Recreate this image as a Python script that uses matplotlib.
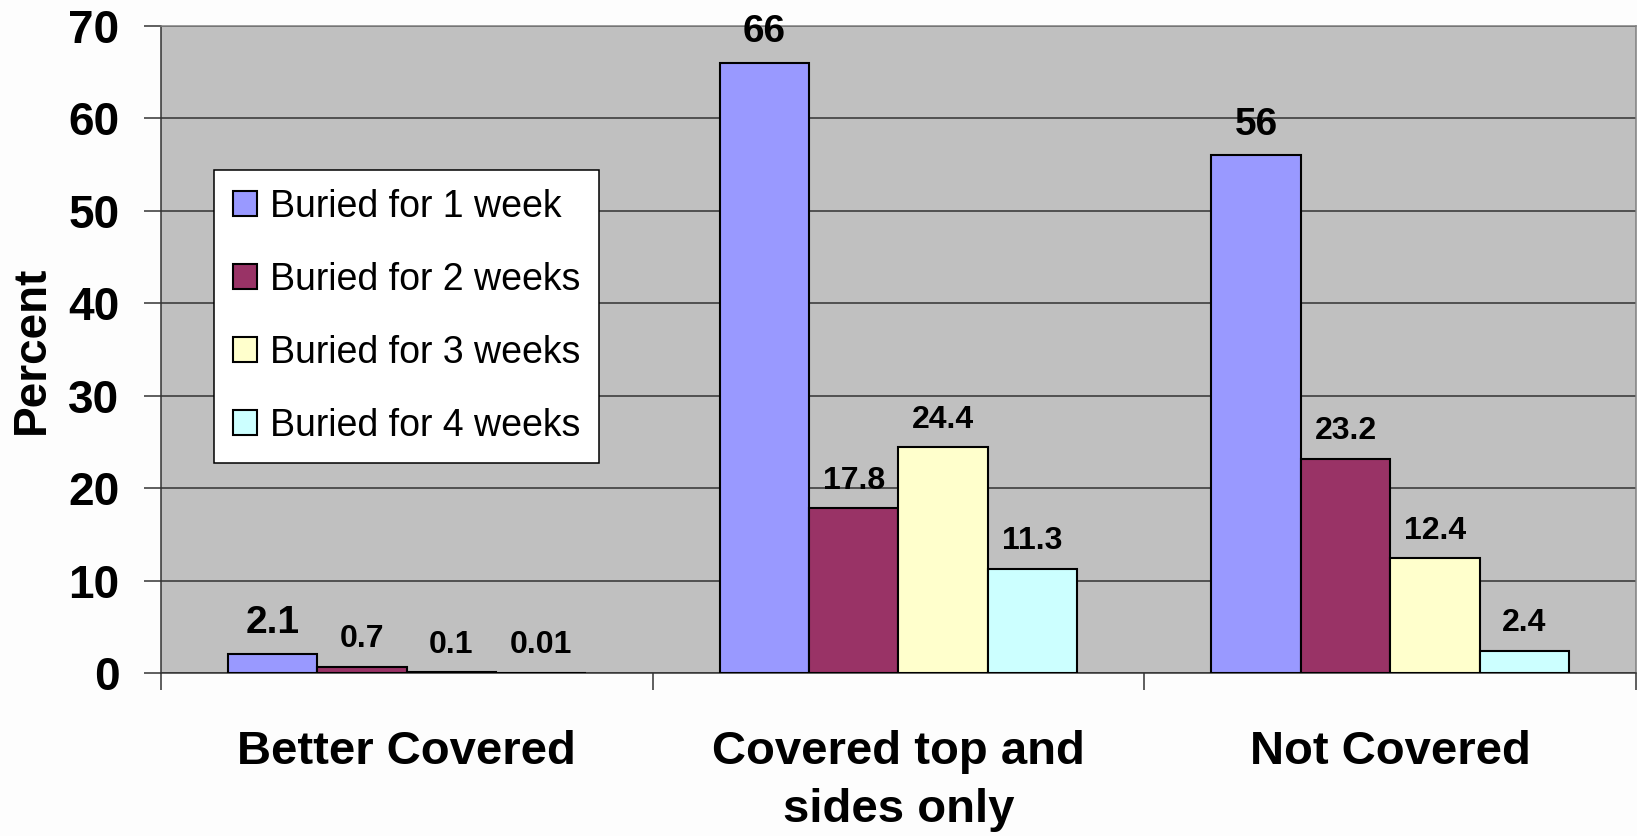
import numpy as np
import matplotlib
matplotlib.use("Agg")
import matplotlib.pyplot as plt

# --- data ---
categories = ["Better Covered", "Covered top and\nsides only", "Not Covered"]
series_names = ["Buried for 1 week", "Buried for 2 weeks",
                "Buried for 3 weeks", "Buried for 4 weeks"]
week1 = [2.1, 66, 56]
week2 = [0.7, 17.8, 23.2]
week3 = [0.1, 24.4, 12.4]
week4 = [0.01, 11.3, 2.4]
label_text = [["2.1", "66", "56"],
              ["0.7", "17.8", "23.2"],
              ["0.1", "24.4", "12.4"],
              ["0.01", "11.3", "2.4"]]

colors = ["#9999FF", "#993366", "#FFFFCC", "#CCFFFF"]

plt.rcParams["font.family"] = ["Liberation Sans", "DejaVu Sans"]

fig = plt.figure(figsize=(16.37, 8.36), dpi=100, facecolor="#FDFDFD")
ax = fig.add_axes([0.0983, 0.195, 0.9011, 0.774])
ax.set_facecolor("#C0C0C0")

x = np.arange(len(categories))
width = 1 / 5.5  # four bars + 150% gap
series = [week1, week2, week3, week4]

for i, (vals, name, col) in enumerate(zip(series, series_names, colors)):
    pos = x + (i - 1.5) * width
    bars = ax.bar(pos, vals, width, color=col, edgecolor="black",
                  linewidth=1.5, label=name, zorder=3)
    fs = 28 if i == 0 else 23
    for b, txt in zip(bars, label_text[i]):
        ax.annotate(txt, (b.get_x() + b.get_width() / 2, b.get_height()),
                    xytext=(0, 9), textcoords="offset points",
                    ha="center", va="bottom", fontsize=fs,
                    fontweight="bold", zorder=4)

ax.set_xlim(-0.5, 2.5)
ax.set_ylim(0, 70)
ax.set_yticks(range(0, 71, 10))
ax.yaxis.grid(True, color="#333333", linewidth=1.1, zorder=1)
ax.set_axisbelow(True)

ax.set_xticks(x)
ax.set_xticklabels(categories, fontsize=34, fontweight="bold",
                   linespacing=1.42)
ax.set_xticks([-0.5, 0.5, 1.5, 2.5], minor=True)
ax.tick_params(axis="x", which="major", length=0, pad=41)
ax.tick_params(axis="x", which="minor", length=12, width=1.1,
               direction="out", color="#333333")
ax.tick_params(axis="y", length=12, width=1.1, direction="out",
               color="#333333", pad=18, labelsize=33)
for lbl in ax.get_yticklabels():
    lbl.set_fontweight("bold")

ax.set_ylabel("Percent", fontsize=33, fontweight="bold", labelpad=10)

ax.spines["left"].set_color("#333333")
ax.spines["bottom"].set_color("#333333")
ax.spines["top"].set_color("#808080")
ax.spines["right"].set_color("#808080")
for s in ax.spines.values():
    s.set_linewidth(1.1)

leg = ax.legend(loc="upper left", bbox_to_anchor=(0.1307, 0.7967),
                bbox_transform=fig.transFigure, fontsize=27,
                frameon=True, fancybox=False, framealpha=1,
                edgecolor="black", borderaxespad=0, borderpad=0.5,
                labelspacing=0.99, handlelength=0.65, handleheight=0.65,
                handletextpad=0.35)
leg.get_frame().set_linewidth(1.1)
leg.set_zorder(5)

fig.savefig("out.png", dpi=100, facecolor=fig.get_facecolor())
